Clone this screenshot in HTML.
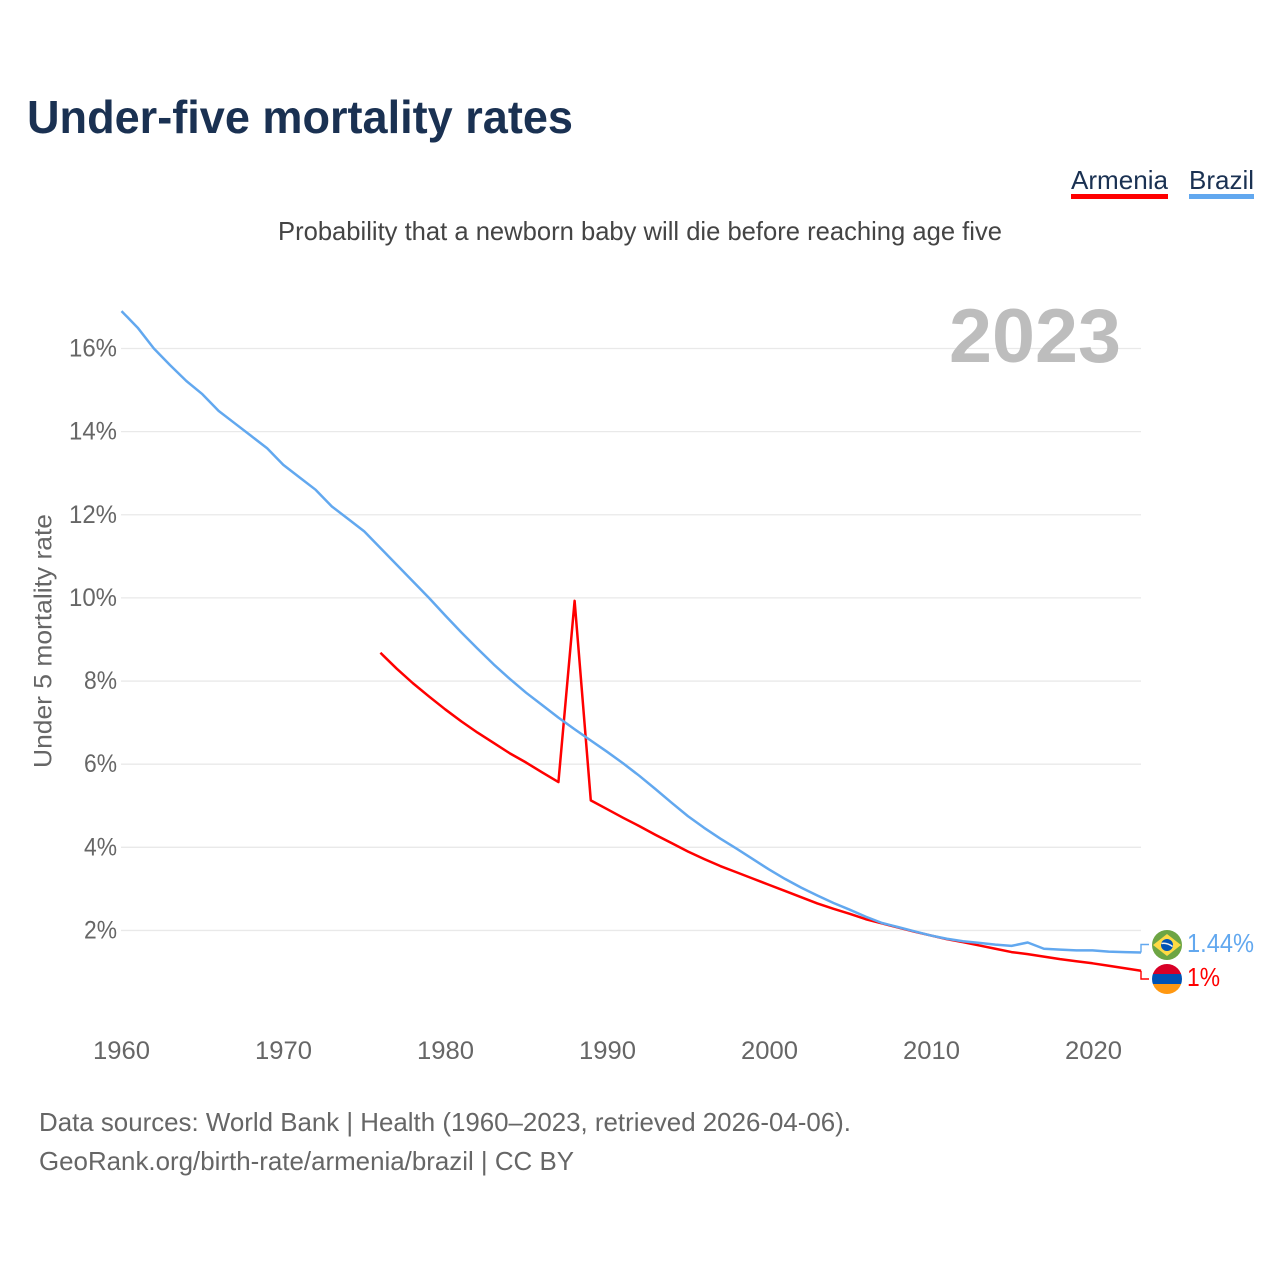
<!DOCTYPE html>
<html lang="en">
<head>
<meta charset="utf-8">
<title>Under-five mortality rates</title>
<style>
html,body{margin:0;padding:0;background:#fff;width:1280px;height:1280px;overflow:hidden}
svg{display:block}
text{font-family:"Liberation Sans",sans-serif}
</style>
</head>
<body>
<svg id="chart" xmlns="http://www.w3.org/2000/svg" width="1280" height="1280" viewBox="0 0 1280 1280">
  <rect width="1280" height="1280" fill="#fff"/>
  <text x="27" y="133" font-size="46" font-weight="700" fill="#1a3152" textLength="546" lengthAdjust="spacingAndGlyphs">Under-five mortality rates</text>
  <text x="1071" y="189" font-size="26" fill="#1a3152" textLength="97" lengthAdjust="spacingAndGlyphs">Armenia</text>
  <rect x="1071" y="194" width="97" height="5" fill="#ff0000"/>
  <text x="1189" y="189" font-size="26" fill="#1a3152" textLength="65" lengthAdjust="spacingAndGlyphs">Brazil</text>
  <rect x="1189" y="194" width="65" height="5" fill="#62a8ef"/>
  <text x="278" y="240" font-size="26" fill="#444" textLength="724" lengthAdjust="spacingAndGlyphs">Probability that a newborn baby will die before reaching age five</text>
  <g id="grid"></g>
  <text x="949" y="362" font-size="76" font-weight="700" fill="#bdbdbd" textLength="172" lengthAdjust="spacingAndGlyphs">2023</text>
  <g id="yticks"></g>
  <g id="xticks"></g>
  <text transform="translate(51.5,768) rotate(-90)" font-size="25" fill="#666" textLength="254" lengthAdjust="spacingAndGlyphs">Under 5 mortality rate</text>
  <g id="series"></g>
  <g>
    <circle cx="1167" cy="945" r="15" fill="#6da544"/>
    <polygon points="1167,934 1181,945 1167,956 1153,945" fill="#ffda44"/>
    <circle cx="1167" cy="945" r="6" fill="#0052b4"/>
    <path d="M1161.5 943.5 Q1167 942.5 1172.5 946.5" stroke="#f0f0f0" stroke-width="1.5" fill="none"/>
  </g>
  <g>
    <clipPath id="am-clip"><circle cx="1167" cy="979" r="15"/></clipPath>
    <g clip-path="url(#am-clip)">
      <rect x="1152" y="964" width="30" height="10" fill="#d80027"/>
      <rect x="1152" y="974" width="30" height="10" fill="#0052b4"/>
      <rect x="1152" y="984" width="30" height="10" fill="#ff9811"/>
    </g>
  </g>
  <text x="1187" y="952" font-size="26" fill="#62a8ef" textLength="67" lengthAdjust="spacingAndGlyphs">1.44%</text>
  <text x="1187" y="986" font-size="26" fill="#ff0000" textLength="33" lengthAdjust="spacingAndGlyphs">1%</text>
  <text x="39" y="1131" font-size="26" fill="#666" textLength="812" lengthAdjust="spacingAndGlyphs">Data sources: World Bank | Health (1960–2023, retrieved 2026-04-06).</text>
  <text x="39" y="1170" font-size="26" fill="#666" textLength="535" lengthAdjust="spacingAndGlyphs">GeoRank.org/birth-rate/armenia/brazil | CC BY</text>
</svg>
<script>
const yTickValues = [2, 4, 6, 8, 10, 12, 14, 16];
const xTickYears = [1960, 1970, 1980, 1990, 2000, 2010, 2020];
const brazilStartYear = 1960;
const brazilValues = [16.9,16.5,16.0,15.6,15.22,14.9,14.5,14.2,13.9,13.6,13.2,12.9,12.6,12.2,11.9,11.6,11.2,10.8,10.4,10.0,9.58,9.17,8.78,8.4,8.05,7.72,7.42,7.12,6.84,6.57,6.3,6.02,5.72,5.4,5.07,4.75,4.47,4.21,3.97,3.72,3.47,3.24,3.03,2.84,2.66,2.5,2.33,2.18,2.08,1.98,1.88,1.8,1.74,1.7,1.66,1.63,1.71,1.56,1.54,1.52,1.52,1.49,1.48,1.47];
const armeniaStartYear = 1976;
const armeniaValues = [8.68,8.3,7.95,7.63,7.32,7.03,6.76,6.51,6.26,6.04,5.8,5.57,9.93,5.13,4.92,4.71,4.51,4.3,4.1,3.9,3.72,3.55,3.4,3.25,3.1,2.95,2.8,2.65,2.52,2.4,2.27,2.17,2.07,1.97,1.88,1.79,1.72,1.64,1.56,1.48,1.43,1.37,1.31,1.26,1.21,1.15,1.09,1.03];

const NS = 'http://www.w3.org/2000/svg';
function xScale(year) { return 121.5 + (year - 1960) * (1141 - 121.5) / 63; }
function xLabelCenter(year) { return 121.5 + (year - 1960) * 16.2; }
function yScale(v) { return 1013.6 - v * 41.57; }

const grid = document.getElementById('grid');
const yticks = document.getElementById('yticks');
yTickValues.forEach(function (v) {
  const line = document.createElementNS(NS, 'line');
  
  
  line.setAttribute('x1', 121);
  line.setAttribute('x2', 1141);
  line.setAttribute('y1', yScale(v));
  line.setAttribute('y2', yScale(v));
  line.setAttribute('stroke', '#e9e9e9');
  line.setAttribute('stroke-width', '1.3');
  grid.appendChild(line);
  const t = document.createElementNS(NS, 'text');
  
  
  const w = v >= 10 ? 48 : 33;
  t.setAttribute('x', 117 - w);
  t.setAttribute('y', yScale(v) + 8);
  t.setAttribute('font-size', '25');
  t.setAttribute('fill', '#666');
  t.setAttribute('textLength', w);
  t.setAttribute('lengthAdjust', 'spacingAndGlyphs');
  t.textContent = v + '%';
  yticks.appendChild(t);
});

const xticks = document.getElementById('xticks');
xTickYears.forEach(function (yr) {
  const t = document.createElementNS(NS, 'text');
  
  
  t.setAttribute('x', xLabelCenter(yr) - 28.5);
  t.setAttribute('y', 1059);
  t.setAttribute('font-size', '25');
  t.setAttribute('fill', '#666');
  t.setAttribute('textLength', '57');
  t.setAttribute('lengthAdjust', 'spacingAndGlyphs');
  t.textContent = yr;
  xticks.appendChild(t);
});

function drawSeries(values, startYear, color) {
  const pts = values.map(function (v, i) {
    return xScale(startYear + i).toFixed(2) + ',' + yScale(v).toFixed(2);
  });
  const lastY = yScale(values[values.length - 1]);
  return { pts: pts.join(' '), lastY: lastY, color: color };
}
const seriesGroup = document.getElementById('series');

const armenia = drawSeries(armeniaValues, armeniaStartYear, '#ff0000');
const armeniaLine = document.createElementNS(NS, 'polyline');


armeniaLine.setAttribute('points', armenia.pts);
armeniaLine.setAttribute('fill', 'none');
armeniaLine.setAttribute('stroke', armenia.color);
armeniaLine.setAttribute('stroke-width', '2.5');
armeniaLine.setAttribute('stroke-linejoin', 'round');
seriesGroup.appendChild(armeniaLine);

const brazil = drawSeries(brazilValues, brazilStartYear, '#62a8ef');
const brazilLine = document.createElementNS(NS, 'polyline');


brazilLine.setAttribute('points', brazil.pts);
brazilLine.setAttribute('fill', 'none');
brazilLine.setAttribute('stroke', brazil.color);
brazilLine.setAttribute('stroke-width', '2.5');
brazilLine.setAttribute('stroke-linejoin', 'round');
seriesGroup.appendChild(brazilLine);

const brazilConnector = document.createElementNS(NS, 'path');


brazilConnector.setAttribute('d', 'M1141 ' + brazil.lastY + ' V944.5 H1149');
brazilConnector.setAttribute('fill', 'none');
brazilConnector.setAttribute('stroke', brazil.color);
brazilConnector.setAttribute('stroke-width', '1.4');
seriesGroup.appendChild(brazilConnector);

const armeniaConnector = document.createElementNS(NS, 'path');


armeniaConnector.setAttribute('d', 'M1141 ' + armenia.lastY + ' V979 H1149');
armeniaConnector.setAttribute('fill', 'none');
armeniaConnector.setAttribute('stroke', armenia.color);
armeniaConnector.setAttribute('stroke-width', '1.4');
seriesGroup.appendChild(armeniaConnector);
</script>
</body>
</html>
